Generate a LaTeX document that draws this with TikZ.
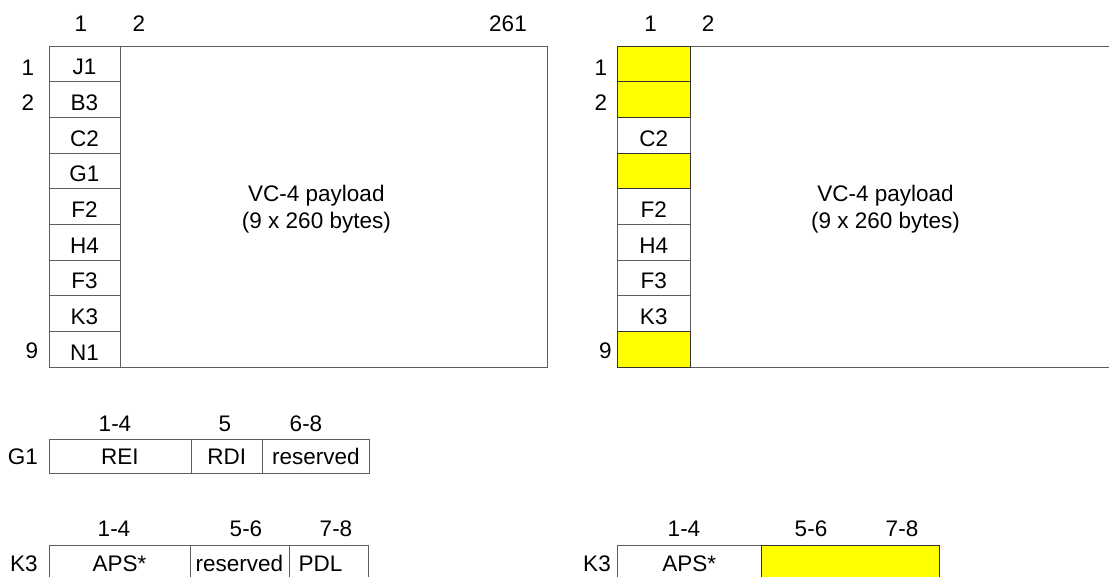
\documentclass[tikz,border=0pt]{standalone}
\usepackage{fontspec}
\setmainfont{Liberation Sans}
\definecolor{lncol}{HTML}{5E5E5E}
\definecolor{ylcol}{HTML}{FFFF00}
\definecolor{ydcol}{HTML}{333333}
\begin{document}
\begin{tikzpicture}[x=1pt,y=-1pt,
  every node/.style={font=\fontsize{22.5}{27}\selectfont, inner sep=0pt, outer sep=0pt},
  ln/.style={draw=lncol, line width=1pt},
  txt/.style={anchor=base},
  frame/.style={ln, anchor=north west, minimum height=321pt},
  cellL/.style={ln, fill=white, anchor=north west, minimum width=71pt, minimum height=35.67pt, text height=22.3pt, text depth=0pt},
  cellR/.style={ln, fill=white, anchor=north west, minimum width=72.5pt, minimum height=35.67pt, text height=22.3pt, text depth=0pt},
  ycell/.style={fill=ylcol, draw=ydcol},
  bcell/.style={ln, fill=white, anchor=north west, text height=16.3pt, text depth=0pt},
]
\useasboundingbox (0,0) rectangle (1109,576);
\clip (0,0) rectangle (1109,576);

% ---------- left frame ----------
\node[frame, minimum width=498pt] (LF) at (49,46) {};
\foreach \t [count=\i] in {J1,B3,C2,G1,F2,H4,F3,K3,N1}
  \node[cellL] (L\i) at (49,{46+(\i-1)*35.667}) {\t};
\node[txt] (Lh1) at (81,31.7) {1};
\node[txt] (Lh2) at (139,31.7) {2};
\node[txt] (Lh3) at (508,31.7) {261};
\node[txt] (Lr1) at (28,75) {1};
\node[txt] (Lr2) at (28,110.7) {2};
\node[txt] (Lr9) at (32,358.5) {9};
\node[txt] (LP1) at (316.4,201.7) {VC-4 payload};
\node[txt] (LP2) at (316.4,228.3) {(9 x 260 bytes)};

% ---------- right frame ----------
\node[frame, minimum width=600pt] (RF) at (617.5,46) {};
\foreach \t/\i in {C2/3,F2/5,H4/6,F3/7,K3/8}
  \node[cellR] (R\i) at (617.5,{46+(\i-1)*35.667}) {\t};
\foreach \i in {1,2,4,9}
  \node[cellR, ycell] (R\i) at (617.5,{46+(\i-1)*35.667}) {};
\node[txt] (Rh1) at (650.5,31.7) {1};
\node[txt] (Rh2) at (708,31.7) {2};
\node[txt] (Rr1) at (601,75) {1};
\node[txt] (Rr2) at (601,110.7) {2};
\node[txt] (Rr9) at (605.5,358.5) {9};
\node[txt] (RP1) at (885.5,201.7) {VC-4 payload};
\node[txt] (RP2) at (885.5,228.3) {(9 x 260 bytes)};

% ---------- G1 ----------
\node[txt] (Glab) at (23,464.3) {G1};
\node[bcell, minimum width=142pt, minimum height=34.3pt] (G1a) at (49,439) {REI};
\node[bcell, minimum width=71.7pt, minimum height=34.3pt] (G1b) at (191,439) {RDI};
\node[bcell, minimum width=106.3pt, minimum height=34.3pt] (G1c) at (262.7,439) {reserved};
\node[txt] (Gh1) at (115,431.7) {1-4};
\node[txt] (Gh2) at (225,431.7) {5};
\node[txt] (Gh3) at (306,431.7) {6-8};

% ---------- K3 left ----------
\node[txt] (Klab) at (24,571) {K3};
\node[bcell, minimum width=141pt, minimum height=35.7pt] (K1a) at (49,545) {APS*};
\node[bcell, minimum width=99pt, minimum height=35.7pt] (K1b) at (190,545) {reserved};
\node[bcell, minimum width=79pt, minimum height=35.7pt] (K1c) at (289,545) {PDL\hspace*{16pt}};
\node[txt] (Kh1) at (114,536.7) {1-4};
\node[txt] (Kh2) at (246,536.7) {5-6};
\node[txt] (Kh3) at (336,536.7) {7-8};

% ---------- K3 right ----------
\node[txt] (RKlab) at (597,571) {K3};
\node[bcell, minimum width=143.5pt, minimum height=35.7pt] (K2a) at (617.5,545) {APS*};
\node[bcell, ycell, minimum width=178.3pt, minimum height=35.7pt] (K2b) at (761,545) {};
\node[txt] (RKh1) at (684,536.7) {1-4};
\node[txt] (RKh2) at (811,536.7) {5-6};
\node[txt] (RKh3) at (902,536.7) {7-8};
\end{tikzpicture}
\end{document}
